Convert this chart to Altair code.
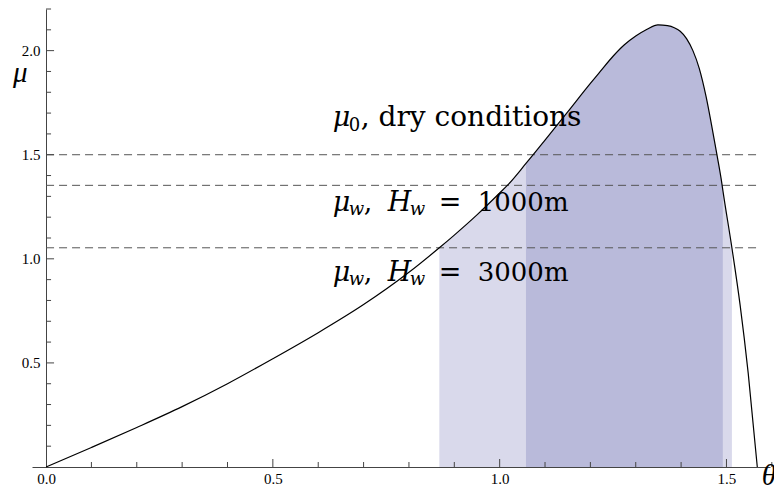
import altair as alt
import pandas as pd

# curve mu(theta)
theta = [0.0, 0.1, 0.2, 0.3, 0.4, 0.5, 0.6, 0.7, 0.8, 0.867, 0.9, 0.95, 1.0, 1.018,
         1.058, 1.074, 1.1, 1.15, 1.2, 1.221, 1.25, 1.275, 1.3, 1.325, 1.349, 1.37,
         1.385, 1.398, 1.412, 1.426, 1.44, 1.455, 1.467, 1.479, 1.49, 1.492, 1.512,
         1.53, 1.548, 1.568]
mu = [0.0, 0.094, 0.19, 0.29, 0.40, 0.52, 0.645, 0.78, 0.935, 1.053, 1.114, 1.211, 1.316, 1.355,
      1.458, 1.5, 1.57, 1.706, 1.843, 1.898, 1.973, 2.028, 2.07, 2.103, 2.124, 2.12,
      2.11, 2.093, 2.058, 2.0, 1.915, 1.78, 1.645, 1.5, 1.36, 1.33, 1.053,
      0.78, 0.45, 0.0]

levels = [1.5, 1.353, 1.053]
light_range = [0.867, 1.512]
dark_range = [1.058, 1.492]

x_major = [0.0, 0.5, 1.0, 1.5]
y_major = [0.5, 1.0, 1.5, 2.0]
x_minor = [0.1, 0.2, 0.3, 0.4, 0.6, 0.7, 0.8, 0.9, 1.1, 1.2, 1.3, 1.4, 1.6]
y_minor = [0.1, 0.2, 0.3, 0.4, 0.6, 0.7, 0.8, 0.9, 1.1, 1.2, 1.3, 1.4, 1.6, 1.7,
           1.8, 1.9, 2.1, 2.2]

SERIF = "Liberation Serif"
LABEL_FONT = "DejaVu Serif"
AX = "#444444"

df = pd.DataFrame({"theta": theta, "mu": mu})
xs = alt.Scale(domain=[-0.031, 1.596], nice=False, zero=False)
ys = alt.Scale(domain=[0, 2.2], nice=False, zero=False)
XAX = alt.Axis(values=x_major, format=".1f", ticks=False, grid=False, title=None,
               labelPadding=4, labelFlush=False)
YAX = alt.Axis(values=y_major, format=".1f", ticks=False, grid=False, title=None,
               offset=-14, labelPadding=6, labelFlush=False)
one = pd.DataFrame({"a": [0]})


def X(field):
    return alt.X(field, type="quantitative", scale=xs, axis=XAX)


def Y(field):
    return alt.Y(field, type="quantitative", scale=ys, axis=YAX)


def XD(v):
    return alt.XDatum(v, scale=xs, axis=XAX)


def YD(v):
    return alt.YDatum(v, scale=ys, axis=YAX)


def area(rng, color):
    return alt.Chart(df).transform_filter(
        (alt.datum.theta >= rng[0]) & (alt.datum.theta <= rng[1])
    ).mark_area(color=color, interpolate="monotone").encode(x=X("theta"), y=Y("mu"))


light = area(light_range, "#d9d9eb")
dark = area(dark_range, "#b9bada")

dashes = alt.Chart(pd.DataFrame({"mu": levels})).mark_rule(
    color="#555555", strokeDash=[8, 5], strokeWidth=1
).encode(x=XD(0.0), x2=alt.datum(1.57), y=Y("mu"))

curve = alt.Chart(df).mark_line(
    color="black", strokeWidth=1.2, interpolate="monotone"
).encode(x=X("theta"), y=Y("mu"))


def xticks(vals, length):
    return alt.Chart(pd.DataFrame({"theta": vals})).mark_rule(
        color=AX, y2Offset=-length).encode(x=X("theta"), y=YD(0.0), y2=alt.datum(0.0))


def yticks(vals, length):
    return alt.Chart(pd.DataFrame({"mu": vals})).mark_rule(
        color=AX, x2Offset=length).encode(y=Y("mu"), x=XD(0.0), x2=alt.datum(0.0))


def txt(s, x, y, size, italic=False, dx=0, dy=0, font=LABEL_FONT):
    return alt.Chart(one).mark_text(
        text=s, align="left", baseline="alphabetic", font=font, fontSize=size,
        fontStyle="italic" if italic else "normal", dx=dx, dy=dy, color="black"
    ).encode(x=XD(x), y=YD(y))


LX = 0.632
label_y = [1.640, 1.229, 0.893]
texts = [
    txt("μ", LX, label_y[0], 27, True),
    txt("0", LX, label_y[0], 18, False, dx=16, dy=5),
    txt(", dry conditions", LX, label_y[0], 28, False, dx=28),
]
for yy, num in [(label_y[1], "1000m"), (label_y[2], "3000m")]:
    texts += [
        txt("μ", LX, yy, 27, True),
        txt("w", LX, yy, 18, True, dx=16, dy=4),
        txt(",", LX, yy, 27, False, dx=31),
        txt("H", LX, yy, 27, True, dx=55),
        txt("w", LX, yy, 18, True, dx=77, dy=4),
        txt("=", LX, yy, 27, False, dx=106),
        txt(num, LX, yy, 26, False, dx=145),
    ]
texts += [
    txt("μ", -0.073, 1.85, 29, True, font=SERIF),
    txt("θ", 1.578, -0.088, 29, True, font=SERIF),
]

chart = alt.layer(
    light, dark, dashes, curve,
    xticks(x_minor, 5), xticks(x_major[1:], 8),
    yticks(y_minor, 5), yticks(y_major, 8),
    *texts,
).properties(
    width=738, height=458,
    autosize=alt.AutoSizeParams(type="none"),
    padding={"left": 24, "top": 1, "right": 4, "bottom": 21},
    background="white",
).configure_view(stroke=None).configure_axis(
    labelFont=SERIF, labelFontSize=15, labelColor="black", domainColor=AX,
    ticks=False, grid=False,
)

chart.save("out.html", embed_options={"renderer": "svg", "actions": False})
